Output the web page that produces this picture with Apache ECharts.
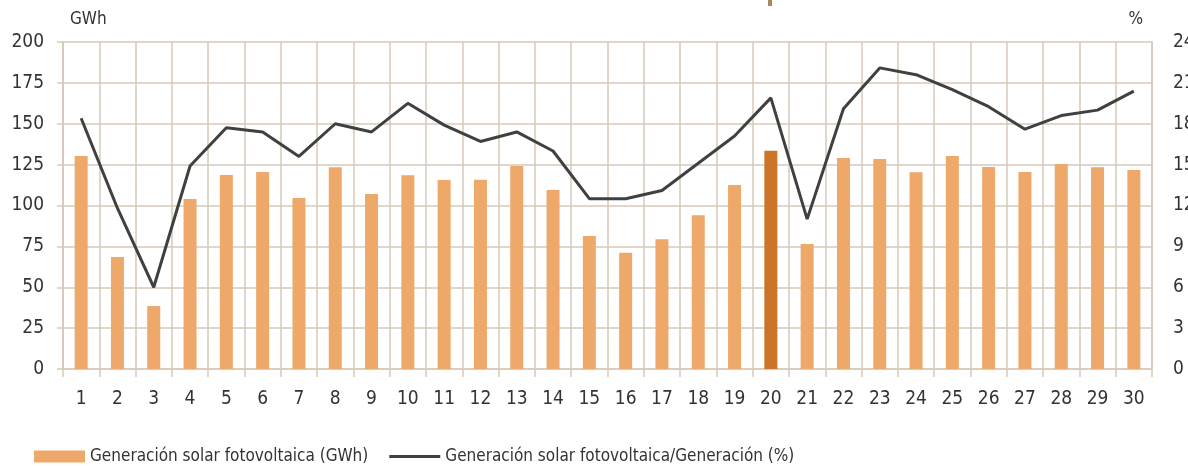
<!DOCTYPE html>
<html>
<head>
<meta charset="utf-8">
<script src="https://cdn.jsdelivr.net/npm/echarts@6/dist/echarts.min.js"></script>
<style>
html,body{margin:0;padding:0;background:#fff;}
#chart{width:1188px;height:466px;}
</style>
</head>
<body>
<div id="chart"></div>
<script>
const categories = ['1','2','3','4','5','6','7','8','9','10','11','12','13','14','15','16','17','18','19','20','21','22','23','24','25','26','27','28','29','30'];
const solarGWh = [130.3,68.5,38.5,104,118.7,120.5,104.6,123.4,107,118.5,115.6,115.8,124.2,109.5,81.3,71.1,79.4,94,112.5,133.5,76.5,129,128.4,120.4,130.3,123.5,120.5,125.4,123.4,121.7];
const solarShare = [18.4,11.8,6.0,14.9,17.7,17.4,15.6,18.0,17.4,19.5,17.9,16.7,17.4,16.0,12.5,12.5,13.1,15.1,17.1,19.9,11.0,19.1,22.1,21.6,20.5,19.25,17.6,18.6,19.0,20.4];
const highlightIndex = 19;
const leftTicks = [0, 200, 25];
const rightTicks = [0, 24, 3];

const FONT = "'Liberation Sans Narrow','DejaVu Sans Condensed','Roboto',sans-serif";
const BAR = '#EEA86A', BAR_HI = '#CC7428', LINE = '#404040', GRID = '#d6cab8', TXT = '#333333';

const chart = echarts.init(document.getElementById('chart'), null, {renderer: 'canvas'});
chart.setOption({
  animation: false,
  textStyle: {fontFamily: FONT},
  grid: {left: 63, right: 36, top: 42, bottom: 97, outerBoundsMode: 'none', containLabel: false},
  legend: {
    left: 29, top: 443, itemWidth: 51, itemHeight: 12, itemGap: 21,
    symbolKeepAspect: true,
    textStyle: {fontFamily: FONT, fontSize: 17, color: TXT},
    data: [
      {name: 'Generación solar fotovoltaica (GWh)', icon: 'rect'},
      {name: 'Generación solar fotovoltaica/Generación (%)', icon: 'path://M0,0H51V3H0Z', itemStyle: {color: LINE}}
    ]
  },
  xAxis: {
    type: 'category', data: categories, boundaryGap: true,
    axisLine: {show: true, lineStyle: {color: GRID, width: 1.5}},
    axisTick: {show: true, length: 8, lineStyle: {color: GRID, width: 1.5}},
    axisLabel: {fontFamily: FONT, fontSize: 19, color: TXT, margin: 21},
    splitLine: {show: true, lineStyle: {color: GRID, width: 1.5}}
  },
  yAxis: [
    {
      type: 'value', min: leftTicks[0], max: leftTicks[1], interval: leftTicks[2],
      name: 'GWh', nameLocation: 'end', nameGap: 14,
      nameTextStyle: {fontFamily: FONT, fontSize: 17, color: TXT, align: 'left', padding: [0,0,0,7]},
      axisLine: {show: true, lineStyle: {color: GRID, width: 2}},
      axisTick: {show: true, length: 6, lineStyle: {color: GRID, width: 1.5}},
      axisLabel: {fontFamily: FONT, fontSize: 19, color: TXT, margin: 19},
      splitLine: {show: true, lineStyle: {color: GRID, width: 1.5}}
    },
    {
      type: 'value', min: rightTicks[0], max: rightTicks[1], interval: rightTicks[2],
      name: '%', nameLocation: 'end', nameGap: 14,
      nameTextStyle: {fontFamily: FONT, fontSize: 17, color: TXT, align: 'right', padding: [0,9,0,0]},
      axisLine: {show: true, lineStyle: {color: GRID, width: 1.5}},
      axisTick: {show: false},
      axisLabel: {fontFamily: FONT, fontSize: 19, color: TXT, margin: 21},
      splitLine: {show: false}
    }
  ],
  graphic: [
    {type: 'rect', left: 768, top: 0, shape: {width: 4, height: 6}, style: {fill: '#A88A5A'}, silent: true}
  ],
  series: [
    {
      name: 'Generación solar fotovoltaica (GWh)', type: 'bar', yAxisIndex: 0,
      barWidth: 13,
      itemStyle: {color: BAR},
      data: solarGWh.map((v, i) => i === highlightIndex ? {value: v, itemStyle: {color: BAR_HI}} : v)
    },
    {
      name: 'Generación solar fotovoltaica/Generación (%)', type: 'line', yAxisIndex: 1,
      symbol: 'none', lineStyle: {color: LINE, width: 3}, itemStyle: {color: LINE},
      data: solarShare
    }
  ]
});
</script>
</body>
</html>
